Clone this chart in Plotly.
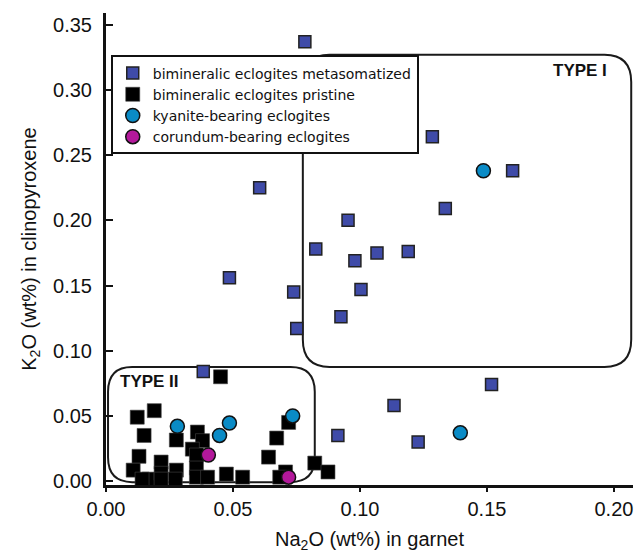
import plotly.graph_objects as go

# ---- data ----
meta_x = [0.0783, 0.1123, 0.1285, 0.1601, 0.0605, 0.1336, 0.0953, 0.0826, 0.1067, 0.1190,
          0.0980, 0.1004, 0.0739, 0.0486, 0.0925, 0.0751, 0.0383, 0.1518, 0.1134, 0.0913, 0.1229]
meta_y = [0.337, 0.288, 0.264, 0.238, 0.225, 0.209, 0.200, 0.178, 0.175, 0.176,
          0.169, 0.147, 0.145, 0.156, 0.126, 0.117, 0.084, 0.074, 0.058, 0.035, 0.030]

prist_x = [0.0451, 0.0123, 0.0190, 0.0150, 0.0277, 0.0360, 0.0380, 0.0340, 0.0356, 0.0130,
           0.0217, 0.0107, 0.0277, 0.0356, 0.0170, 0.0217, 0.0273, 0.0356, 0.0400, 0.0474,
           0.0538, 0.0672, 0.0640, 0.0719, 0.0707, 0.0684, 0.0822, 0.0874, 0.0142, 0.0217]
prist_y = [0.080, 0.049, 0.054, 0.035, 0.0315, 0.0376, 0.031, 0.0245, 0.020, 0.019,
           0.0146, 0.0084, 0.0084, 0.010, 0.0015, 0.006, 0.0015, 0.003, 0.003, 0.0054,
           0.003, 0.033, 0.0184, 0.045, 0.007, 0.003, 0.0138, 0.007, 0.0015, 0.0015]

kya_x = [0.1486, 0.1395, 0.0735, 0.0281, 0.0486, 0.0447]
kya_y = [0.238, 0.037, 0.050, 0.042, 0.0445, 0.035]

cor_x = [0.0403, 0.0719]
cor_y = [0.020, 0.003]

x_ticks = [0.00, 0.05, 0.10, 0.15, 0.20]
y_ticks = [0.00, 0.05, 0.10, 0.15, 0.20, 0.25, 0.30, 0.35]

# field boxes (data units)
type1 = dict(x0=0.0775, x1=0.2068, y0=0.0875, y1=0.327)
type2 = dict(x0=0.0008, x1=0.0822, y0=-0.0008, y1=0.0875)

X_RANGE = [0.0, 0.2075]
Y_RANGE = [-0.003, 0.359]


def rounded_box(b, rx, ry):
    x0, x1, y0, y1 = b["x0"], b["x1"], b["y0"], b["y1"]
    return (f"M {x0+rx},{y0} L {x1-rx},{y0} Q {x1},{y0} {x1},{y0+ry} "
            f"L {x1},{y1-ry} Q {x1},{y1} {x1-rx},{y1} "
            f"L {x0+rx},{y1} Q {x0},{y1} {x0},{y1-ry} "
            f"L {x0},{y0+ry} Q {x0},{y0} {x0+rx},{y0} Z")


fig = go.Figure()
fig.add_trace(go.Scatter(x=meta_x, y=meta_y, mode="markers",
                         name="bimineralic eclogites metasomatized",
                         marker=dict(symbol="square", size=12, color="#3F4BA8",
                                     line=dict(color="#222222", width=1.5))))
fig.add_trace(go.Scatter(x=prist_x, y=prist_y, mode="markers",
                         name="bimineralic eclogites pristine",
                         marker=dict(symbol="square", size=14, color="#000000",
                                     line=dict(color="#444444", width=0.6))))
fig.add_trace(go.Scatter(x=kya_x, y=kya_y, mode="markers",
                         name="kyanite-bearing eclogites",
                         marker=dict(symbol="circle", size=14, color="#0A8BC6",
                                     line=dict(color="#111111", width=1.5))))
fig.add_trace(go.Scatter(x=cor_x, y=cor_y, mode="markers",
                         name="corundum-bearing eclogites",
                         marker=dict(symbol="circle", size=14, color="#B3189B",
                                     line=dict(color="#111111", width=1.5))))

fig.add_shape(type="path", path=rounded_box(type1, 0.0105, 0.021), xref="x", yref="y",
              line=dict(color="#1a1a1a", width=2), layer="below")
fig.add_shape(type="path", path=rounded_box(type2, 0.0095, 0.019), xref="x", yref="y",
              line=dict(color="#1a1a1a", width=2), layer="below")

fig.add_annotation(x=0.198, y=0.3147, xref="x", yref="y", text="<b>TYPE I</b>",
                   showarrow=False, xanchor="right", yanchor="middle",
                   font=dict(family="Liberation Sans Narrow, Arial", size=17, color="#111"))
fig.add_annotation(x=0.0047, y=0.076, xref="x", yref="y", text="<b>TYPE II</b>",
                   showarrow=False, xanchor="left", yanchor="middle",
                   font=dict(family="Liberation Sans Narrow, Arial", size=17, color="#111"))

axis_common = dict(showline=True, linecolor="#111111", linewidth=3, showgrid=False,
                   zeroline=False, tickcolor="#111111", tickwidth=2, automargin=False,
                   tickfont=dict(family="Liberation Sans, Arial", size=20, color="#111"),
                   title_font=dict(family="Liberation Sans, Arial", size=20, color="#111"))

fig.update_xaxes(range=X_RANGE, tickvals=x_ticks, tickformat=".2f", ticks="outside",
                 ticklen=4, title_text="Na<sub>2</sub>O (wt%) in garnet",
                 title_standoff=13, **axis_common)
fig.update_yaxes(range=Y_RANGE, tickvals=y_ticks, tickformat=".2f", ticks="inside",
                 ticklen=7, ticklabelstandoff=7,
                 title_text="K<sub>2</sub>O (wt%) in clinopyroxene",
                 title_standoff=12, **axis_common)

fig.update_layout(
    width=644, height=553,
    margin=dict(l=106, r=11, t=13, b=68),
    paper_bgcolor="white", plot_bgcolor="white",
    showlegend=True,
    legend=dict(x=0.009, y=0.91, xanchor="left", yanchor="top",
                bgcolor="white", bordercolor="#111111", borderwidth=2,
                font=dict(family="DejaVu Sans, Arial", size=14, color="#111"),
                itemwidth=30, tracegroupgap=0),
)

fig.write_html("out.html", config={"displayModeBar": False},
               post_script="document.body.style.margin='0';document.body.style.padding='0';")
